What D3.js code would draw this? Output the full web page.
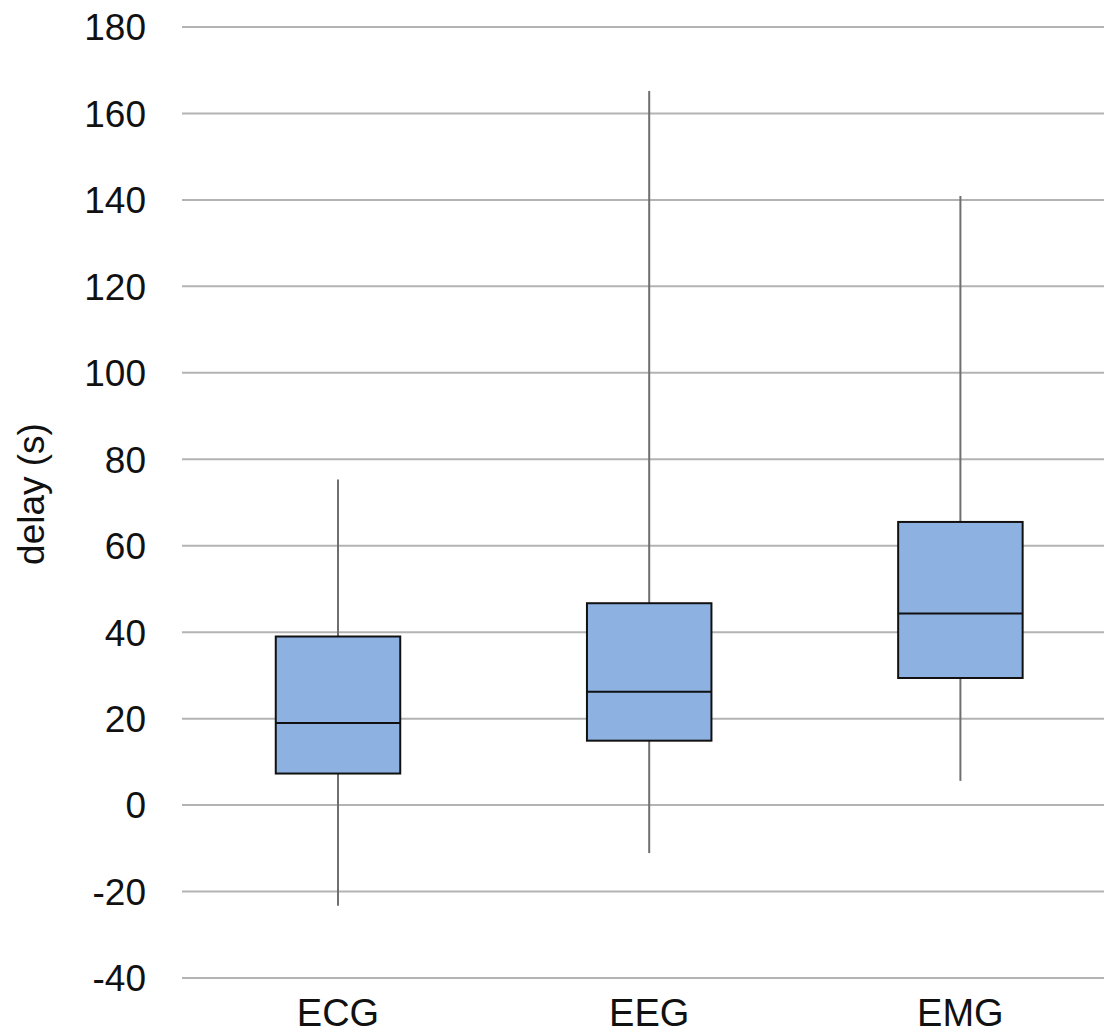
<!DOCTYPE html>
<html lang="en">
<head>
<meta charset="utf-8">
<title>delay boxplot</title>
<script src="https://d3js.org/d3.v7.min.js"></script>
<style type="text/css">
html, body {
  margin: 0;
  padding: 0;
  background: white;
  overflow: hidden;
}
text {
  font-family: "Liberation Sans", Arial, sans-serif;
  fill: #111;
}
</style>
</head>
<body>
<div id="chart"></div>
<script>
  // values
  var categories = ["ECG", "EEG", "EMG"];
  var whiskerLow = [-23.3, -11.1, 5.6];
  var q1 = [7.3, 14.9, 29.4];
  var median = [19.0, 26.2, 44.3];
  var q3 = [39.0, 46.7, 65.5];
  var whiskerHigh = [75.3, 165.2, 140.9];
  var yTicks = [-40, -20, 0, 20, 40, 60, 80, 100, 120, 140, 160, 180];

  var width = 1104, height = 1034;

  var svg = d3.select("#chart")
    .append("svg")
      .attr("width", width)
      .attr("height", height);

  var y = d3.scaleLinear()
    .domain([-40, 180])
    .range([978, 27]);

  var x = d3.scaleBand()
    .domain(categories)
    .range([182.4, 1116])
    .padding(0);

  // gridlines
  svg.append("g")
    .selectAll("line")
    .data(yTicks)
    .enter().append("line")
      .attr("x1", 182)
      .attr("x2", 1116)
      .attr("y1", function(d){ return y(d); })
      .attr("y2", function(d){ return y(d); })
      .attr("stroke", "#b3b3b3")
      .attr("stroke-width", 2);

  // y tick labels
  svg.append("g")
    .selectAll("text")
    .data(yTicks)
    .enter().append("text")
      .attr("x", 146)
      .attr("y", function(d){ return y(d); })
      .attr("dy", "0.36em")
      .attr("text-anchor", "end")
      .style("font-size", "37px")
      .text(function(d){ return d; });

  // category labels (sit right at the bottom edge, like the original)
  svg.append("g")
    .selectAll("text")
    .data(categories)
    .enter().append("text")
      .attr("x", function(d){ return x(d) + x.bandwidth() / 2; })
      .attr("y", 1026)
      .attr("text-anchor", "middle")
      .style("font-size", "38px")
      .text(function(d){ return d; });

  // y axis title
  svg.append("text")
    .attr("transform", "translate(44,494) rotate(-90)")
    .attr("text-anchor", "middle")
    .style("font-size", "37px")
    .text("delay (s)");

  var boxW = x.bandwidth() * 0.4;
  var boxes = svg.append("g")
    .selectAll("g")
    .data(categories)
    .enter().append("g");

  // whiskers
  boxes.append("line")
    .attr("x1", function(d){ return x(d) + x.bandwidth() / 2; })
    .attr("x2", function(d){ return x(d) + x.bandwidth() / 2; })
    .attr("y1", function(d, i){ return y(whiskerHigh[i]); })
    .attr("y2", function(d, i){ return y(q3[i]); })
    .attr("stroke", "#6f6f6f")
    .attr("stroke-width", 2);

  boxes.append("line")
    .attr("x1", function(d){ return x(d) + x.bandwidth() / 2; })
    .attr("x2", function(d){ return x(d) + x.bandwidth() / 2; })
    .attr("y1", function(d, i){ return y(q1[i]); })
    .attr("y2", function(d, i){ return y(whiskerLow[i]); })
    .attr("stroke", "#6f6f6f")
    .attr("stroke-width", 2);

  // boxes
  boxes.append("rect")
    .attr("x", function(d){ return x(d) + x.bandwidth() / 2 - boxW / 2; })
    .attr("y", function(d, i){ return y(q3[i]); })
    .attr("width", boxW)
    .attr("height", function(d, i){ return y(q1[i]) - y(q3[i]); })
    .attr("fill", "#8db2e1")
    .attr("stroke", "#111")
    .attr("stroke-width", 2);

  // medians
  boxes.append("line")
    .attr("x1", function(d){ return x(d) + x.bandwidth() / 2 - boxW / 2; })
    .attr("x2", function(d){ return x(d) + x.bandwidth() / 2 + boxW / 2; })
    .attr("y1", function(d, i){ return y(median[i]); })
    .attr("y2", function(d, i){ return y(median[i]); })
    .attr("stroke", "#111")
    .attr("stroke-width", 2);
</script>
</body>
</html>
